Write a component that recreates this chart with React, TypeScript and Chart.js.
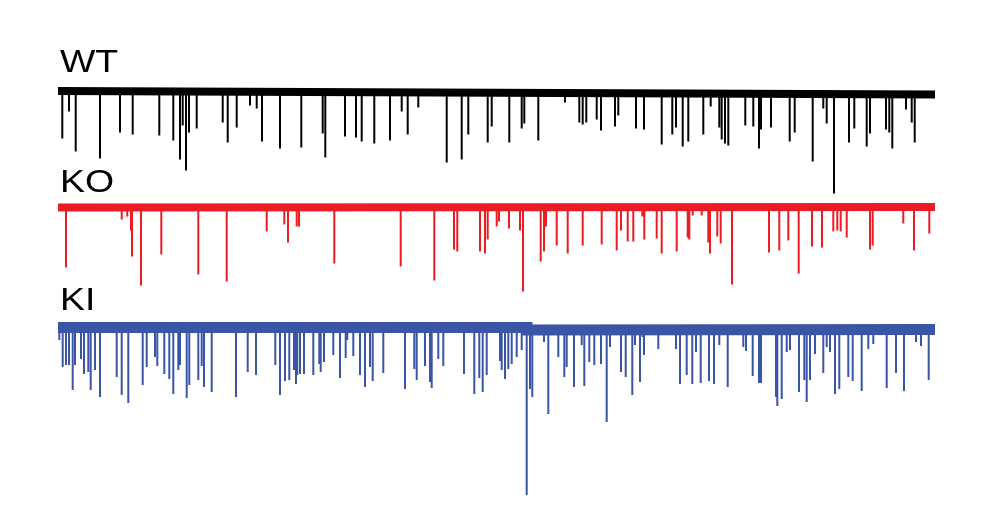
import React, { useEffect, useRef } from "react";
import { Chart, registerables } from "chart.js";

Chart.register(...registerables);

// Trace names
const traceNames = ["WT", "KO", "KI"];
const traceColors = ["#000000", "#ED1C24", "#3A55A6"];

// Recording length (time units) and baseline holding levels (pA)
const recordEnd = 877;
const wtBaseTime = [0, 877];
const wtBaseLevel = [1.5, -2];
const koBaseTime = [0, 877];
const koBaseLevel = [0, 0.5];
const kiBaseTime = [0, 469, 469, 877];
const kiBaseLevel = [0.5, 0.5, -2, -1.5];

// Event times and peak amplitudes (pA)
const wtTime = [4.3, 11, 17.7, 42, 62, 74.7, 101.3, 115.3, 122, 124.7, 128, 131, 138.7, 164.7, 169.7, 178.7, 192, 198.7, 204, 222, 243.3, 264.7, 267.3, 287, 298, 303.7, 316.3, 332, 343.7, 349.7, 360.3, 388.7, 403.7, 410.3, 429.7, 433.7, 451.3, 463.7, 466.3, 480.3, 507, 521.3, 524.7, 528.3, 538.7, 543, 557, 560.3, 578, 586, 603.7, 614.3, 618, 624.7, 630.3, 645.3, 652.7, 661.3, 663.7, 667, 670.3, 687.3, 695.3, 701, 703, 713, 731.7, 736.7, 754.7, 765.3, 768.7, 776, 791, 796.3, 808.7, 812, 828, 831.3, 834.3, 848, 853.7, 856.7];
const wtPeak = [-46, -19, -59, -66, -40, -42, -43, -48, -67, -33, -78, -40, -36, -30, -50, -35, -13, -16, -49, -56, -55, -41, -65, -44, -45, -49, -51, -48, -19, -42, -15, -70, -67, -42, -50, -34, -50, -36, -31, -48, -10, -30, -32, -30, -27, -38, -34, -23, -36, -37, -52, -42, -35, -54, -49, -42, -14, -35, -47, -51, -53, -33, -34, -56, -37, -35, -49, -40, -69, -16, -31, -101, -50, -36, -54, -41, -37, -40, -56, -17, -30, -50];

const koTime = [8, 63.7, 69.3, 73, 74, 83, 103.3, 140.3, 168.7, 208.7, 226.3, 230, 238.7, 241, 276.3, 342.7, 376.3, 396, 399.3, 422, 427, 429.7, 438.7, 441, 451, 462, 465, 482.7, 486, 488, 498.7, 509.7, 524.7, 543.7, 558.7, 563, 569.7, 575.3, 584.3, 586.3, 598.7, 603.7, 618.7, 629.7, 631.3, 634.7, 643.7, 650.3, 652, 659.3, 662.7, 674, 711, 721.3, 730.3, 740.7, 754, 764, 775.3, 779.3, 782.7, 788.7, 812, 814.7, 845.3, 856, 871.3];
const koPeak = [-60, -12, -9, -23, -49, -78, -47, -67, -74, -24, -17, -35, -19, -19, -56, -59, -73, -42, -44, -44, -46, -32, -19, -14, -21, -23, -84, -54, -44, -19, -38, -46, -38, -37, -43, -23, -34, -34, -9, -32, -31, -46, -44, -30, -32, -8, -8, -35, -46, -29, -36, -77, -45, -43, -33, -66, -39, -40, -24, -23, -24, -30, -42, -38, -16, -43, -26];

const kiTime = [1.3, 4.7, 8, 11, 14.7, 17, 23, 26, 30.3, 32.7, 37, 42, 58.7, 63.7, 70.3, 84.7, 88.7, 97, 99.3, 106.3, 111.3, 115.3, 120.3, 122, 128.7, 131.3, 140.3, 143.7, 146, 153.7, 178, 189.7, 198, 217.3, 222, 227, 231.3, 236, 238, 239.3, 242, 246, 255.3, 261.3, 262.7, 266, 275.3, 282, 287.7, 289.3, 295.3, 302, 307, 312, 314.7, 325.3, 347, 356.3, 358.7, 367, 372, 373.7, 380.3, 385.3, 406, 416.3, 421.3, 424.7, 428.7, 442, 443.7, 447, 450.3, 453.7, 458.7, 463.7, 468.7, 472, 474.3, 486, 490.3, 500.3, 506.3, 508.7, 516, 523.7, 526.3, 531.3, 536.3, 543, 548.7, 552, 563, 567.7, 574.3, 577, 582, 584.7, 586, 600.3, 618, 622, 628.7, 634.3, 638, 642.7, 651, 656, 661.3, 669.7, 685.3, 688, 694.7, 701, 703, 718, 719.3, 723.7, 728.7, 732, 741, 746.3, 748.7, 752, 757, 765.3, 768.7, 772, 777, 781.3, 790.3, 794.7, 803.7, 810.3, 815.3, 828.7, 838, 846, 858, 863, 870.7];
const kiPeak = [-12, -39, -37, -37, -62, -37, -31, -46, -44, -62, -42, -69, -49, -67, -75, -57, -39, -29, -38, -46, -51, -66, -42, -37, -70, -57, -52, -38, -59, -64, -69, -44, -47, -37, -67, -53, -52, -42, -56, -47, -46, -46, -47, -36, -44, -34, -27, -50, -30, -12, -28, -47, -59, -39, -53, -45, -61, -41, -52, -38, -54, -60, -31, -38, -46, -66, -50, -64, -47, -33, -42, -51, -41, -36, -29, -22, -167, -61, -69, -14, -86, -29, -49, -39, -59, -17, -58, -34, -37, -36, -94, -19, -44, -49, -67, -17, -54, -9, -27, -21, -21, -56, -47, -56, -24, -55, -53, -56, -17, -59, -19, -23, -48, -55, -55, -69, -78, -71, -24, -22, -64, -52, -74, -52, -26, -45, -19, -24, -66, -61, -49, -53, -63, -21, -16, -60, -45, -63, -14, -18, -52];

// Layout (kept apart from the data)
const traceOffsets = [-92.5, -207.5, -328];
const baseWidths = [8, 8, 11];
const labelGaps = [20.5, 15.5, 18];

const baseTimes = [wtBaseTime, koBaseTime, kiBaseTime];
const baseLevels = [wtBaseLevel, koBaseLevel, kiBaseLevel];
const eventTimes = [wtTime, koTime, kiTime];
const eventPeaks = [wtPeak, koPeak, kiPeak];

export default function App() {
  const canvasRef = useRef<HTMLCanvasElement | null>(null);

  useEffect(() => {
    document.body.style.margin = "0";
    const canvas = canvasRef.current;
    if (!canvas) return;

    const datasets: any[] = [];
    traceNames.forEach((name, i) => {
      const off = traceOffsets[i];
      const spikes: any[] = [];
      eventTimes[i].forEach((t, k) => {
        spikes.push({ x: t, y: off });
        spikes.push({ x: t, y: off + eventPeaks[i][k] });
        spikes.push({ x: t, y: null });
      });
      datasets.push({
        label: name + " events",
        data: spikes,
        borderColor: traceColors[i],
        borderWidth: 2,
        pointRadius: 0,
        spanGaps: false,
        tension: 0,
        order: 2,
      });
      datasets.push({
        label: name,
        data: baseTimes[i].map((t, k) => ({ x: t, y: off + baseLevels[i][k] })),
        borderColor: traceColors[i],
        borderWidth: baseWidths[i],
        borderCapStyle: "butt",
        pointRadius: 0,
        tension: 0,
        order: 1,
      });
    });

    const labelPlugin = {
      id: "traceLabels",
      afterDatasetsDraw(chart: any) {
        const ctx = chart.ctx;
        const xs = chart.scales.x;
        const ys = chart.scales.y;
        ctx.save();
        ctx.fillStyle = "#000";
        ctx.font = "32px 'Liberation Sans', Arial, sans-serif";
        ctx.textBaseline = "alphabetic";
        traceNames.forEach((name, i) => {
          const px = xs.getPixelForValue(0) + 2;
          const py = ys.getPixelForValue(traceOffsets[i]) - labelGaps[i];
          ctx.save();
          ctx.translate(px, py);
          ctx.scale(1.17, 1);
          ctx.fillText(name, 0, 0);
          ctx.restore();
        });
        ctx.restore();
      },
    };

    const chart = new Chart(canvas, {
      type: "line",
      data: { datasets },
      options: {
        animation: false,
        responsive: true,
        maintainAspectRatio: false,
        layout: { padding: 0 },
        plugins: { legend: { display: false }, tooltip: { enabled: false } },
        scales: {
          x: { type: "linear", min: -58, max: recordEnd + 65, display: false },
          y: { type: "linear", min: -521, max: 0, display: false },
        },
      },
      plugins: [labelPlugin],
    });
    return () => chart.destroy();
  }, []);

  return (
    <div style={{ width: 1000, height: 521, position: "relative", background: "#fff" }}>
      <canvas ref={canvasRef} />
    </div>
  );
}
